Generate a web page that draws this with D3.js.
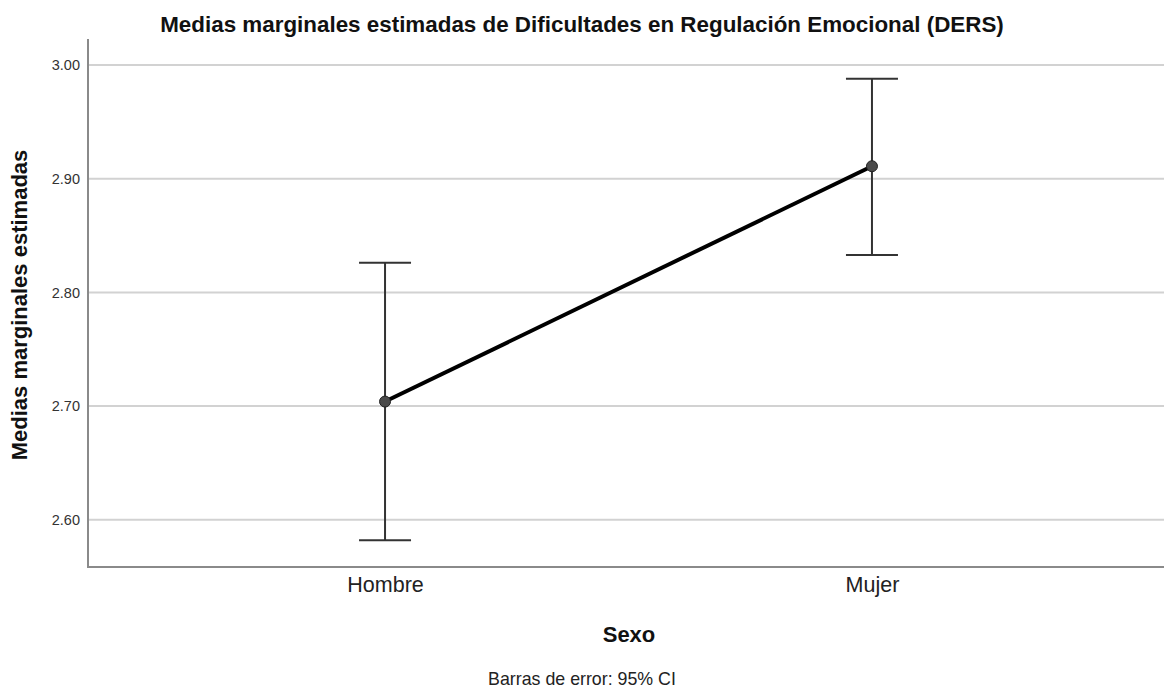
<!DOCTYPE html>
<html>
<head>
<meta charset="utf-8">
<script src="https://cdn.jsdelivr.net/npm/d3@7"></script>
<style>
  html, body { margin: 0; padding: 0; background: #ffffff; }
  svg { display: block; font-family: "Liberation Sans", Arial, sans-serif; }
</style>
</head>
<body>
<svg id="chart" width="1164" height="690"></svg>
<script>
// Estimated marginal means of DERS by sex, with 95% CI
const categories = ["Hombre", "Mujer"];
const means = [2.704, 2.911];
const ciLower = [2.582, 2.833];
const ciUpper = [2.826, 2.988];
const yTicks = [2.60, 2.70, 2.80, 2.90, 3.00];

const W = 1164, H = 690;
const plotLeft = 88, plotTop = 39, plotBottom = 567, plotRight = 1169;

const svg = d3.select("#chart");

const x = d3.scalePoint()
  .domain(categories)
  .range([plotLeft, plotRight])
  .padding(0.61);

const y = d3.scaleLinear()
  .domain([2.5585, 3.0229])
  .range([plotBottom, plotTop]);

// Horizontal gridlines
svg.append("g")
  .selectAll("line")
  .data(yTicks)
  .join("line")
  .attr("x1", plotLeft)
  .attr("x2", W)
  .attr("y1", d => y(d))
  .attr("y2", d => y(d))
  .attr("stroke", "#d2d2d2")
  .attr("stroke-width", 2);

// Y axis
const yAxis = svg.append("g")
  .attr("transform", `translate(${plotLeft},0)`)
  .call(d3.axisLeft(y).tickValues(yTicks).tickFormat(d3.format(".2f")).tickSize(0).tickPadding(8));
yAxis.select(".domain").remove();
yAxis.selectAll("text")
  .attr("font-size", 14.5)
  .attr("fill", "#333")
  .attr("font-family", "Liberation Sans, Arial, sans-serif");

// Axis lines
svg.append("line")
  .attr("x1", plotLeft).attr("x2", plotLeft)
  .attr("y1", plotTop).attr("y2", plotBottom)
  .attr("stroke", "#8a8a8a").attr("stroke-width", 2);
svg.append("line")
  .attr("x1", plotLeft - 1).attr("x2", W)
  .attr("y1", plotBottom).attr("y2", plotBottom)
  .attr("stroke", "#8a8a8a").attr("stroke-width", 2);

// X axis labels
const xAxis = svg.append("g")
  .attr("transform", `translate(0,${plotBottom})`)
  .call(d3.axisBottom(x).tickSize(0).tickPadding(10));
xAxis.select(".domain").remove();
xAxis.selectAll("text")
  .attr("font-size", 21.5)
  .attr("fill", "#222")
  .attr("font-family", "Liberation Sans, Arial, sans-serif");

// Error bars
const capHalf = 26;
const eb = svg.append("g")
  .attr("stroke", "#333")
  .attr("stroke-width", 2);
categories.forEach((c, i) => {
  const cx = x(c);
  eb.append("line").attr("x1", cx).attr("x2", cx)
    .attr("y1", y(ciLower[i])).attr("y2", y(ciUpper[i]));
  eb.append("line").attr("x1", cx - capHalf).attr("x2", cx + capHalf)
    .attr("y1", y(ciUpper[i])).attr("y2", y(ciUpper[i]));
  eb.append("line").attr("x1", cx - capHalf).attr("x2", cx + capHalf)
    .attr("y1", y(ciLower[i])).attr("y2", y(ciLower[i]));
});

// Mean line
const pts = categories.map((c, i) => [x(c), y(means[i])]);
svg.append("path")
  .attr("d", d3.line()(pts))
  .attr("fill", "none")
  .attr("stroke", "#000")
  .attr("stroke-width", 4);

// Mean markers
svg.append("g")
  .selectAll("circle")
  .data(pts)
  .join("circle")
  .attr("cx", d => d[0])
  .attr("cy", d => d[1])
  .attr("r", 5.5)
  .attr("fill", "#4a4a4a")
  .attr("stroke", "#222")
  .attr("stroke-width", 1);

// Title
svg.append("text")
  .attr("x", W / 2)
  .attr("y", 32)
  .attr("text-anchor", "middle")
  .attr("font-size", 22.4)
  .attr("font-weight", "bold")
  .attr("fill", "#111")
  .text("Medias marginales estimadas de Dificultades en Regulación Emocional (DERS)");

// Y axis title
svg.append("text")
  .attr("transform", `translate(27,${305}) rotate(-90)`)
  .attr("text-anchor", "middle")
  .attr("font-size", 22)
  .attr("font-weight", "bold")
  .attr("fill", "#111")
  .text("Medias marginales estimadas");

// X axis title
svg.append("text")
  .attr("x", (plotLeft + W) / 2 + 3)
  .attr("y", 642)
  .attr("text-anchor", "middle")
  .attr("font-size", 22)
  .attr("font-weight", "bold")
  .attr("fill", "#111")
  .text("Sexo");

// Footnote
svg.append("text")
  .attr("x", W / 2)
  .attr("y", 685)
  .attr("text-anchor", "middle")
  .attr("font-size", 17.8)
  .attr("fill", "#222")
  .text("Barras de error: 95% CI");
</script>
</body>
</html>
